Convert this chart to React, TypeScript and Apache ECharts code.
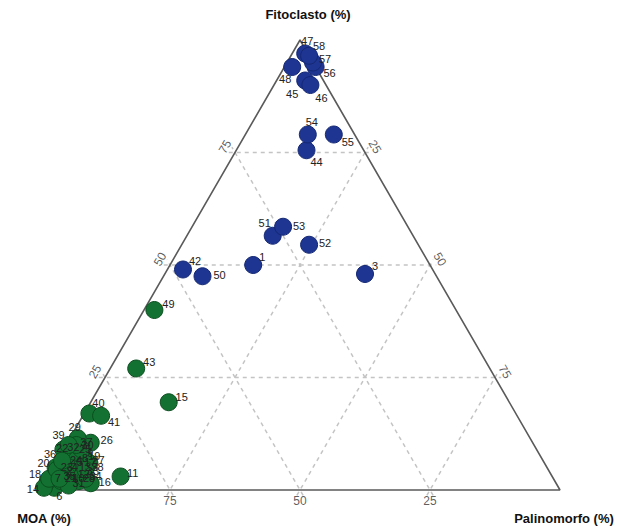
import React, { useEffect, useRef } from "react";
import * as echarts from "echarts";

// Sample ids and ternary composition (%): MOA, Fitoclasto, Palinomorfo
const sampleIds = [
  1, 2, 3, 4, 5, 6, 7, 8, 9, 10, 11, 12, 13, 14, 15, 16, 17, 18, 19, 20,
  21, 22, 23, 24, 25, 26, 27, 28, 29, 30, 31, 32, 33, 34, 35, 36, 37, 38, 39, 40,
  41, 42, 43, 44, 45, 46, 47, 48, 49, 50, 51, 52, 53, 54, 55, 56, 57, 58,
];
const moa = [
  34, 94.5, 13.5, 93, 91.5, 97, 97.5, 90, 88.5, 93.5, 83, 92, 91, 99, 65.5, 89.5, 89.5, 97, 88, 94.5,
  95, 90, 94.5, 92, 89, 85, 87.5, 91.5, 87, 87.5, 94, 91, 90, 90, 95, 92.5, 88, 89, 89.5, 82,
  80, 48, 68, 11, 3.5, 3, 0.5, 4.5, 58, 45, 27, 21, 24, 9, 4, 0, 0, 0,
];
const fito = [
  50, 3.5, 48, 4.5, 5.5, 0.5, 2, 6.5, 7.5, 2, 3, 3, 4.5, 0.5, 19.5, 1.5, 5.5, 2.5, 7, 5,
  2, 8, 4.5, 6, 8.5, 10.5, 6, 2, 11.5, 9, 1, 9, 3.5, 2.5, 2.5, 6.5, 10, 4.5, 10, 17,
  16.5, 49, 27, 75.5, 91, 90, 97, 94, 40, 47.5, 56.5, 54.5, 58.5, 79, 79, 94, 95, 96.5,
];
const palino = [
  16, 2, 38.5, 2.5, 3, 2.5, 0.5, 3.5, 4, 4.5, 14, 5, 4.5, 0.5, 15, 9, 5, 0.5, 5, 0.5,
  3, 2, 1, 2, 2.5, 4.5, 6.5, 6.5, 1.5, 3.5, 5, 0, 6.5, 7.5, 2.5, 1, 2, 6.5, 0.5, 1,
  3.5, 3, 5, 13.5, 5.5, 7, 2.5, 1.5, 2, 7.5, 16.5, 24.5, 17.5, 12, 17, 6, 5, 3.5,
];
// Samples drawn in blue (Fitoclasto-rich group); all others green
const blueIds = [1, 3, 42, 44, 45, 46, 47, 48, 50, 51, 52, 53, 54, 55, 56, 57, 58];

const tickValues = [25, 50, 75];
const titleTop = "Fitoclasto (%)";
const titleLeft = "MOA (%)";
const titleRight = "Palinomorfo (%)";

// label offsets (px) relative to the point centre – purely presentational
const labelOffsets: Record<number, [number, number]> = {
  47: [2, -13], 58: [10, -10], 57: [12, -4], 56: [14, 6], 48: [-7, 12], 45: [-13, 13],
  46: [11, 13], 54: [4, -13], 55: [14, 7], 44: [10, 12], 51: [-8, -13], 53: [16, -1],
  52: [16, -2], 42: [12, -9], 50: [17, -1], 1: [9, -8], 3: [10, -8], 49: [14, -6],
  43: [13, -7], 15: [13, -5], 40: [9, -11], 41: [13, 6], 11: [12, -4], 16: [14, -1],
  26: [16, -3], 29: [-3, -11], 39: [-10, -10], 30: [6, -5], 22: [-9, -6], 36: [-12, -7],
  20: [-12, -5], 18: [-14, -5], 14: [-11, 1], 6: [5, 8], 27: [9, -3], 38: [12, -3], 33: [10, -3],
};

const H = Math.sqrt(3) / 2;
function toXY(m: number, f: number, p: number): [number, number] {
  const s = m + f + p;
  const F = f / s;
  const P = p / s;
  return [P + F / 2, F * H];
}

export default function App() {
  const ref = useRef<HTMLDivElement>(null);
  useEffect(() => {
    if (!ref.current) return;
    const chart = echarts.init(ref.current, null, { renderer: "svg" });
    const font = "Liberation Sans, Arial, sans-serif";

    const makePoints = (blue: boolean) =>
      sampleIds
        .map((id, i) => ({ id, i }))
        .filter(({ id }) => blueIds.includes(id) === blue)
        .map(({ id, i }) => {
          const [x, y] = toXY(moa[i], fito[i], palino[i]);
          const off = labelOffsets[id] || [10, -3];
          return { value: [x, y, id], label: { offset: off, color: "#222" } };
        });

    // grid lines
    const ext = 0.012;
    const gridSeries: any[] = [];
    const seg = (a: [number, number], b: [number, number]) => {
      const dx = b[0] - a[0];
      const dy = b[1] - a[1];
      const len = Math.hypot(dx, dy);
      const ux = dx / len, uy = dy / len;
      return [
        [a[0] - ux * ext, a[1] - uy * ext],
        [b[0] + ux * ext, b[1] + uy * ext],
      ];
    };
    tickValues.forEach((v) => {
      gridSeries.push(seg(toXY(100 - v, v, 0), toXY(0, v, 100 - v)));
      gridSeries.push(seg(toXY(100 - v, 0, v), toXY(0, 100 - v, v)));
      gridSeries.push(seg(toXY(v, 0, 100 - v), toXY(v, 100 - v, 0)));
    });

    const d = 0.022;
    const tickData: any[] = [];
    tickValues.forEach((v) => {
      const l = toXY(100 - v, v, 0);
      tickData.push({
        value: [l[0] - 0.866 * d, l[1] + 0.5 * d],
        name: String(v),
        label: { rotate: 60, color: "#333" },
      });
      const r = toXY(0, 100 - v, v);
      tickData.push({
        value: [r[0] + 0.866 * d, r[1] + 0.5 * d],
        name: String(v),
        label: { rotate: -60, color: "#333" },
      });
      const b = toXY(v, 0, 100 - v);
      tickData.push({ value: [b[0], b[1] - 0.021], name: String(v), label: { rotate: 0, color: "#333" } });
    });

    const pointLabel = {
      show: true,
      position: "inside",
      formatter: (p: any) => String(p.value[2]),
      color: "#222",
      fontSize: 11,
      fontFamily: font,
      textBorderWidth: 0,
    };

    chart.setOption({
      animation: false,
      grid: { left: 40, right: 72, top: 40, bottom: 40, containLabel: false },
      xAxis: { type: "value", min: 0, max: 1, show: false },
      yAxis: { type: "value", min: 0, max: H, show: false },
      graphic: [
        {
          type: "text", x: 308, y: 14,
          style: { text: titleTop, fontSize: 13, fontWeight: "bold", fontFamily: font, fill: "#111", align: "center", verticalAlign: "middle" },
        },
        {
          type: "text", x: 44, y: 518,
          style: { text: titleLeft, fontSize: 13, fontWeight: "bold", fontFamily: font, fill: "#111", align: "center", verticalAlign: "middle" },
        },
        {
          type: "text", x: 564, y: 518,
          style: { text: titleRight, fontSize: 13, fontWeight: "bold", fontFamily: font, fill: "#111", align: "center", verticalAlign: "middle" },
        },
      ],
      series: [
        ...gridSeries.map((data) => ({
          type: "line",
          data,
          symbol: "none",
          clip: false,
          silent: true,
          z: 1,
          lineStyle: { color: "#c4c4c4", width: 1.5, type: [4, 4] },
        })),
        {
          type: "line",
          data: [toXY(100, 0, 0), toXY(0, 100, 0), toXY(0, 0, 100), toXY(100, 0, 0)],
          symbol: "none",
          clip: false,
          silent: true,
          z: 2,
          lineStyle: { color: "#5a5a5a", width: 1.6 },
        },
        {
          type: "scatter",
          data: tickData,
          symbolSize: 0,
          clip: false,
          silent: true,
          itemStyle: { color: "#333" },
          z: 3,
          label: {
            show: true,
            position: "inside",
            formatter: (p: any) => p.name,
            color: "#333",
            fontSize: 12,
            fontFamily: font,
            textBorderWidth: 0,
          },
        },
        {
          type: "scatter",
          data: makePoints(false),
          symbolSize: 17,
          clip: false,
          z: 4,
          itemStyle: { color: "#137231", borderColor: "#0b4d1f", borderWidth: 1, opacity: 1 },
          label: pointLabel,
        },
        {
          type: "scatter",
          data: makePoints(true),
          symbolSize: 17,
          clip: false,
          z: 4,
          itemStyle: { color: "#1e3592", borderColor: "#142874", borderWidth: 1, opacity: 1 },
          label: pointLabel,
        },
      ],
    });
    return () => chart.dispose();
  }, []);
  return (
    <div
      ref={ref}
      style={{ position: "fixed", left: 0, top: 0, width: 632, height: 530, background: "#fff" }}
    />
  );
}
